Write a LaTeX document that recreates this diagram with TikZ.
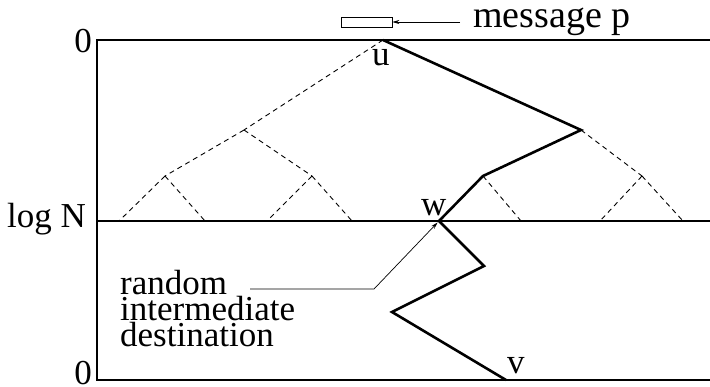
\documentclass[tikz,border=0pt]{standalone}
\usepackage{fontspec}
\setmainfont{Liberation Serif}
\usetikzlibrary{arrows.meta}
\begin{document}
\begin{tikzpicture}[x=1pt,y=-1pt,
  axisline/.style={line width=1.3pt},
  treeedge/.style={line width=0.9pt, dash pattern=on 5pt off 4pt},
  routepath/.style={line width=2.6pt, line join=miter},
  pointer/.style={line width=0.7pt, -{Stealth[length=7pt,width=4pt]}},
  lbl/.style={inner sep=0pt, font=\fontsize{35}{23}\selectfont}]
\useasboundingbox (0,0) rectangle (710,386);
% frame lines
\coordinate (tl) at (97,40);
\coordinate (tr) at (710,40);
\coordinate (ml) at (97,221);
\coordinate (mr) at (710,221);
\coordinate (bl) at (97,380);
\coordinate (br) at (710,380);
\draw[axisline] (tr) -- (tl) -- (bl) -- (br);
\draw[axisline] (ml) -- (mr);
% axis labels
\node[lbl, anchor=base east] (zt) at (92,52) {0};
\node[lbl, anchor=base east] (logn) at (86,227) {log N};
\node[lbl, anchor=base east] (zb) at (92,384) {0};
% tree points
\coordinate (u) at (383,40);
\coordinate (a1) at (244,130);
\coordinate (b1) at (581,130);
\coordinate (a2) at (165,176);
\coordinate (a3) at (312,176);
\coordinate (b2) at (483,176);
\coordinate (b3) at (642,176);
\coordinate (l1) at (119,221);
\coordinate (l2) at (205,221);
\coordinate (l3) at (267,221);
\coordinate (l4) at (352,221);
\coordinate (w) at (439,221);
\coordinate (l6) at (521,221);
\coordinate (l7) at (600,221);
\coordinate (l8) at (683,221);
\coordinate (p1) at (484,266);
\coordinate (p2) at (392,312);
\coordinate (v) at (506,380);
% dashed tree
\draw[treeedge] (u) -- (a1);
\draw[treeedge] (a1) -- (a2);
\draw[treeedge] (a1) -- (a3);
\draw[treeedge] (a2) -- (l1);
\draw[treeedge] (a2) -- (l2);
\draw[treeedge] (a3) -- (l3);
\draw[treeedge] (a3) -- (l4);
\draw[treeedge] (b1) -- (b3);
\draw[treeedge] (b2) -- (l6);
\draw[treeedge] (b3) -- (l7);
\draw[treeedge] (b3) -- (l8);
% route
\draw[routepath] (u) -- (b1) -- (b2) -- (w) -- (p1) -- (p2) -- (v);
% point labels
\node[lbl, anchor=base west] (ulab) at (372,65) {u};
\node[lbl, anchor=base west] (wlab) at (421,215) {w};
\node[lbl, anchor=base west] (vlab) at (507,373) {v};
% message
\node[draw, line width=0.7pt, minimum width=51pt, minimum height=10pt, inner sep=0pt] (msg) at (366.5,22) {};
\node[lbl, anchor=base west, font=\fontsize{38}{44}\selectfont] (msglab) at (473,27) {message p};
\coordinate (ms) at (460,22);
\draw[pointer] (ms) -- (msg.east);
% random intermediate destination
\node[lbl, anchor=base west, align=left] (rid) at (120,346) {random\\intermediate\\destination};
\coordinate (c1) at (250,289);
\coordinate (c2) at (374,289);
\draw[pointer, shorten >=2pt] (c1) -- (c2) -- (w);
\end{tikzpicture}
\end{document}
